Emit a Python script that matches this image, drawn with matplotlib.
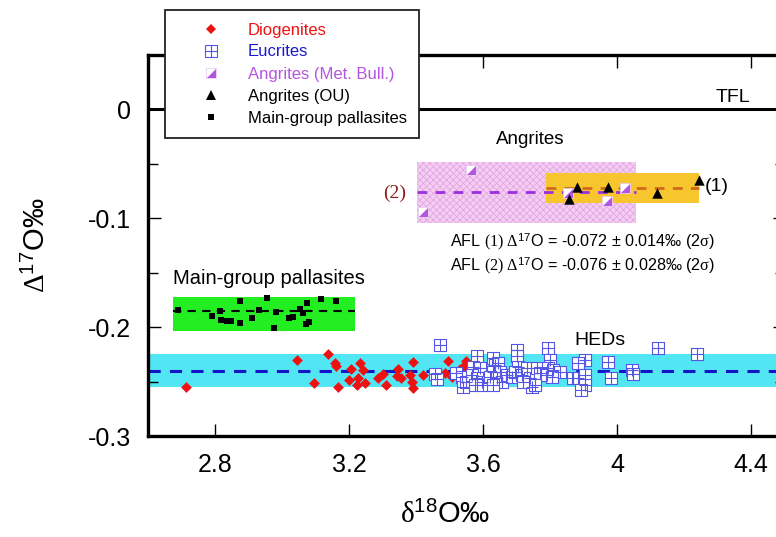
import matplotlib
matplotlib.use('Agg')
import matplotlib.pyplot as plt
from matplotlib.patches import Rectangle
from matplotlib.lines import Line2D
from matplotlib.legend_handler import HandlerTuple
from matplotlib.ticker import MultipleLocator, FixedLocator, FixedFormatter

plt.rcParams['font.family'] = ['Liberation Sans', 'DejaVu Sans']
plt.rcParams['mathtext.fontset'] = 'custom'
plt.rcParams['mathtext.rm'] = 'Liberation Serif'
plt.rcParams['mathtext.it'] = 'Liberation Serif:italic'
plt.rcParams['mathtext.sf'] = 'Liberation Sans'
plt.rcParams['axes.unicode_minus'] = False
plt.rcParams['hatch.linewidth'] = 0.5

# ---------------- data ----------------
dio_x = [2.713, 3.046, 3.096, 3.136, 3.158, 3.161, 3.168, 3.206, 3.201, 3.233, 3.241,
         3.228, 3.225, 3.248, 3.286, 3.302, 3.310, 3.347, 3.342, 3.354, 3.382, 3.392,
         3.387, 3.392, 3.422, 3.495, 3.507, 3.541, 3.549, 3.556, 3.531, 3.487, 3.561]
dio_y = [-0.255, -0.230, -0.251, -0.225, -0.233, -0.236, -0.255, -0.238, -0.249, -0.233, -0.239,
         -0.247, -0.253, -0.251, -0.247, -0.243, -0.253, -0.238, -0.245, -0.247, -0.244, -0.232,
         -0.250, -0.256, -0.244, -0.231, -0.246, -0.237, -0.231, -0.235, -0.238, -0.242, -0.253]

euc_x = [3.472, 3.457, 3.463, 3.519, 3.537, 3.540, 3.549, 3.581, 3.571, 3.591, 3.566,
         3.581, 3.596, 3.576, 3.601, 3.631, 3.636, 3.646, 3.631, 3.651, 3.621, 3.641,
         3.656, 3.631, 3.671, 3.686, 3.700, 3.702, 3.705, 3.696, 3.716, 3.730, 3.740,
         3.745, 3.720, 3.760, 3.795, 3.800, 3.795, 3.770, 3.790, 3.810, 3.830, 3.805,
         3.755, 3.904, 3.884, 3.870, 3.884, 3.904, 3.904, 3.894, 3.974, 3.982, 4.044,
         4.049, 4.121, 4.238]
euc_y = [-0.2165, -0.2431, -0.2477, -0.2422, -0.2459, -0.2550, -0.2505, -0.2263, -0.2364, -0.2379, -0.2440,
         -0.2471, -0.2502, -0.2532, -0.2532, -0.2287, -0.2349, -0.2333, -0.2410, -0.2410, -0.2456, -0.2471,
         -0.2502, -0.2532, -0.2440, -0.2456, -0.2211, -0.2263, -0.2364, -0.2410, -0.2440, -0.2379, -0.2471,
         -0.2548, -0.2502, -0.2379, -0.2195, -0.2303, -0.2379, -0.2425, -0.2440, -0.2394, -0.2410, -0.2456,
         -0.2532, -0.2303, -0.2333, -0.2471, -0.2471, -0.2440, -0.2532, -0.2578, -0.2318, -0.2465, -0.2394,
         -0.2431, -0.2195, -0.2248]

ang_mb_x = [3.564, 3.422, 3.855, 3.971, 4.024]
ang_mb_y = [-0.056, -0.094, -0.077, -0.084, -0.072]

ang_ou_x = [3.880, 3.858, 3.974, 4.118, 4.246]
ang_ou_y = [-0.071, -0.082, -0.071, -0.077, -0.065]

pal_x = [2.690, 2.790, 2.815, 2.817, 2.835, 2.848, 2.875, 2.875, 2.911, 2.932, 2.954,
         2.982, 2.976, 3.022, 3.034, 3.054, 3.064, 3.074, 3.071, 3.081, 3.116, 3.160]
pal_y = [-0.184, -0.190, -0.185, -0.193, -0.194, -0.194, -0.176, -0.196, -0.192, -0.184, -0.173,
         -0.186, -0.201, -0.192, -0.191, -0.183, -0.187, -0.178, -0.197, -0.195, -0.174, -0.176]

tfl_value = 0.0
hed_mean, hed_err = -0.240, 0.015
pal_mean, pal_err, pal_line = -0.188, 0.0153, -0.185
pal_xrange = (2.674, 3.218)
afl1_mean, afl1_err, afl1_xrange = -0.072, 0.014, (3.788, 4.245)
afl2_mean, afl2_err, afl2_xrange = -0.076, 0.028, (3.403, 4.057)

xticks = [2.8, 3.2, 3.6, 4.0, 4.4]
xtick_labels = ["2.8", "3.2", "3.6", "4", "4.4"]
yticks = [-0.3, -0.2, -0.1, 0.0]
ytick_labels = ["-0.3", "-0.2", "-0.1", "0"]

legend_labels = ["Diogenites", "Eucrites", "Angrites (Met. Bull.)", "Angrites (OU)",
                 "Main-group pallasites"]
legend_colors = ["#ee1111", "#1a1acc", "#b455e0", "black", "black"]

# ---------------- figure ----------------
W, H = 776, 537
fig = plt.figure(figsize=(W / 100, H / 100), dpi=100)
ax = fig.add_axes([148 / W, 1 - 436 / H, (784.5 - 148) / W, (436 - 55) / H])
ax.set_xlim(2.6, 4.5)
ax.set_ylim(-0.3, 0.05)

# bands
ax.axhspan(hed_mean - hed_err, hed_mean + hed_err, color='#52e6f4', lw=0, zorder=1)
ax.add_patch(Rectangle((pal_xrange[0], pal_mean - pal_err), pal_xrange[1] - pal_xrange[0],
                       2 * pal_err, facecolor='#22ee22', lw=0, zorder=1))
ax.add_patch(Rectangle((afl2_xrange[0], afl2_mean - afl2_err), afl2_xrange[1] - afl2_xrange[0],
                       2 * afl2_err, facecolor='#f4cdf2', edgecolor='#e0a0e0', hatch='xxxxx',
                       lw=0, zorder=1))
ax.add_patch(Rectangle((afl1_xrange[0], afl1_mean - afl1_err), afl1_xrange[1] - afl1_xrange[0],
                       2 * afl1_err, facecolor='#f7c52e', lw=0, zorder=1.5))

# lines
ax.axhline(tfl_value, color='black', lw=2.2, zorder=2)
ax.axhline(hed_mean, color='#1414c8', lw=2.2, ls=(0, (4, 3)), zorder=2)
ax.plot(pal_xrange, [pal_line, pal_line], color='black', lw=1.5, ls=(0, (4, 3)), zorder=2)
ax.plot(afl2_xrange, [afl2_mean, afl2_mean], color='#9a2ee0', lw=2.0, ls=(0, (3.5, 3)), zorder=2.2)
ax.plot(afl1_xrange, [afl1_mean, afl1_mean], color='#d06a1a', lw=2.0, ls=(0, (3.5, 3)), zorder=2.1)

# markers
ax.scatter(dio_x, dio_y, marker='D', s=5.5 ** 2, color=legend_colors[0], lw=0, zorder=3)
ax.scatter(euc_x, euc_y, marker='s', s=8 ** 2, facecolor='white', edgecolor='#5555e6',
           lw=0.8, zorder=4)
ax.scatter(euc_x, euc_y, marker='+', s=8 ** 2, color='#5555e6', lw=0.8, zorder=4.1)
tri_half = [(-1, -1), (1, -1), (1, 1), (-1, -1)]
ax.scatter(ang_mb_x, ang_mb_y, marker='s', s=6.5 ** 2, facecolor='white', edgecolor='#e6c6f2',
           lw=0.5, zorder=4)
ax.scatter(ang_mb_x, ang_mb_y, marker=tri_half, s=6.5 ** 2, color='#b455e0', lw=0, zorder=4.1)
ax.scatter(ang_ou_x, ang_ou_y, marker='^', s=7.5 ** 2, color='black', lw=0, zorder=5)
ax.scatter(pal_x, pal_y, marker='s', s=5 ** 2, color='black', lw=0, zorder=4)

# texts
ax.text(4.346, 0.011, "TFL", fontsize=14, ha='center', va='center')
ax.text(3.74, -0.028, "Angrites", fontsize=13.5, ha='center', va='center')
ax.text(2.962, -0.155, "Main-group pallasites", fontsize=14.5, ha='center', va='center')
ax.text(3.949, -0.212, "HEDs", fontsize=14, ha='center', va='center')
ax.text(3.37, -0.077, "(2)", fontsize=14, ha='right', va='center', color='#8b1a1a',
        family='Liberation Serif')
ax.text(4.262, -0.0706, "(1)", fontsize=14, ha='left', va='center')
ax.text(3.501, -0.122, r"AFL $\mathrm{(1)}\ \Delta^{\mathsf{17}}$O = -0.072 ± 0.014‰ (2$\mathrm{\sigma}$)",
        fontsize=11.6, ha='left', va='center')
ax.text(3.501, -0.144, r"AFL $\mathrm{(2)}\ \Delta^{\mathsf{17}}$O = -0.076 ± 0.028‰ (2$\mathrm{\sigma}$)",
        fontsize=11.6, ha='left', va='center')

# axes styling
for sp in ax.spines.values():
    sp.set_linewidth(2.4)
ax.xaxis.set_major_locator(FixedLocator(xticks))
ax.xaxis.set_major_formatter(FixedFormatter(xtick_labels))
ax.yaxis.set_major_locator(FixedLocator(yticks))
ax.yaxis.set_major_formatter(FixedFormatter(ytick_labels))
ax.yaxis.set_minor_locator(MultipleLocator(0.05))
ax.tick_params(which='both', direction='in', top=True, right=True, width=1.0, labelsize=18)
ax.tick_params(which='major', length=9)
ax.tick_params(which='minor', length=7)
ax.tick_params(axis='y', pad=12)
ax.tick_params(axis='x', pad=12)

ax.set_xlabel(r"$\mathrm{\delta}^{\mathsf{18}}$O‰", fontsize=21)
ax.xaxis.set_label_coords((445 - 148) / (784.5 - 148), -(515 - 436) / (436 - 55))
ax.set_ylabel(r"$\Delta^{\mathsf{17}}$O‰", fontsize=21)
ax.yaxis.set_label_coords(-(148 - 37) / (784.5 - 148), 0.5)
ax.xaxis.label.set_va('center')
ax.yaxis.label.set_va('center')

# legend
h_dio = Line2D([], [], ls='none', marker='D', ms=5.5, color=legend_colors[0], mew=0)
h_euc = (Line2D([], [], ls='none', marker='s', ms=8, mfc='white', mec='#5555e6', mew=0.8),
         Line2D([], [], ls='none', marker='+', ms=8, color='#5555e6', mew=0.8))
h_amb = (Line2D([], [], ls='none', marker='s', ms=6.5, mfc='white', mec='#e6c6f2', mew=0.5),
         Line2D([], [], ls='none', marker=tri_half, ms=6.5, color='#b455e0', mew=0))
h_aou = Line2D([], [], ls='none', marker='^', ms=7.5, color='black', mew=0)
h_pal = Line2D([], [], ls='none', marker='s', ms=5, color='black', mew=0)
leg = fig.legend([h_dio, h_euc, h_amb, h_aou, h_pal], legend_labels,
                 handler_map={tuple: HandlerTuple(ndivide=1, pad=0)},
                 loc='upper left', bbox_to_anchor=(165 / W, 1 - 10 / H),
                 bbox_transform=fig.transFigure, fontsize=12, frameon=True, fancybox=False,
                 edgecolor='#222222', framealpha=1, borderpad=0.75, handlelength=4.0,
                 handletextpad=0.22, labelspacing=0.42, borderaxespad=0)
leg.get_frame().set_linewidth(1.3)
for t, c in zip(leg.get_texts(), legend_colors):
    t.set_color(c)

fig.savefig('out.png', dpi=100)
